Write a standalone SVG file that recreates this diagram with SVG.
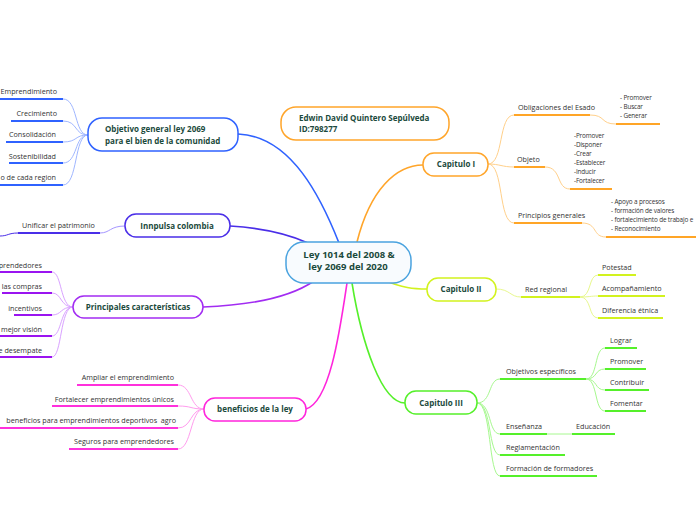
<svg xmlns="http://www.w3.org/2000/svg" width="696" height="520" viewBox="0 0 696 520">
<style>
text{font-family:"Open Sans","Noto Sans","Liberation Sans",sans-serif;white-space:pre;}
.t{font-size:8px;font-weight:bold;fill:#1b4a3c;}
.c{font-size:7.2px;fill:#333;}
.s{font-size:6.4px;fill:#333;letter-spacing:-0.15px;}
.n{fill:#fff;stroke-width:1.5;}
.m{fill:none;stroke-width:1.6;}
.l{fill:none;stroke-width:1;}
.u{fill:none;stroke-width:1.8;}
</style>
<rect width="696" height="520" fill="#fff"/>
<g id="connectors">
<path class="m" stroke="#2f62ff" d="M238,134 C292,136 322,200 339,243"/>
<path class="m" stroke="#4a2ee8" d="M230,226 C262,228 286,233 308,243"/>
<path class="m" stroke="#a22cf2" d="M203,307 C258,305 292,296 314,281"/>
<path class="m" stroke="#ff25dc" d="M306,409 C330,402 340,330 347,283"/>
<path class="m" stroke="#55f02a" d="M352,283 C362,345 382,403 405,403"/>
<path class="m" stroke="#d2f21e" d="M384,280 C402,288 414,289 427,289"/>
<path class="m" stroke="#ffa52a" d="M357,242 C370,190 396,165 423,165"/>
<g>
<path class="l" stroke="#9fb6ff" d="M88,135 C74,135 78,99 63,99"/>
<path class="l" stroke="#9fb6ff" d="M88,135 C74,135 78,121 63,121"/>
<path class="l" stroke="#9fb6ff" d="M88,135 C74,135 78,142 63,142"/>
<path class="l" stroke="#9fb6ff" d="M88,135 C74,135 78,163 63,163"/>
<path class="l" stroke="#9fb6ff" d="M88,135 C74,135 78,185 63,185"/>
<path class="u" stroke="#2f62ff" d="M0,99 H63 M11,121 H63 M6,142 H63 M9,163 H63 M0,185 H63"/>
</g>
<path class="l" stroke="#a596ff" d="M125,226 C110,226 110,233 100,233"/>
<path class="u" stroke="#4a2ee8" d="M18,233 H100"/>
<path class="l" stroke="#4a2ee8" d="M18,233 C8,233 8,236 0,236"/>
<g>
<path class="l" stroke="#d9a2ff" d="M73,307 C60,307 62,272 52,272"/>
<path class="l" stroke="#d9a2ff" d="M73,307 C60,307 62,293 52,293"/>
<path class="l" stroke="#d9a2ff" d="M73,307 C60,307 62,315 52,315"/>
<path class="l" stroke="#d9a2ff" d="M73,307 C60,307 62,336 52,336"/>
<path class="l" stroke="#d9a2ff" d="M73,307 C60,307 62,357 52,357"/>
<path class="u" stroke="#9a14f0" d="M0,272 H52 M2,293 H52 M14,315 H52 M0,336 H52 M0,357 H52"/>
</g>
<g>
<path class="l" stroke="#ff9cee" d="M204,409 C190,409 192,385 178,385"/>
<path class="l" stroke="#ff9cee" d="M204,409 C190,409 192,406 178,406"/>
<path class="l" stroke="#ff9cee" d="M204,409 C190,409 192,428 178,428"/>
<path class="l" stroke="#ff9cee" d="M204,409 C190,409 192,449 178,449"/>
<path class="u" stroke="#ff30dc" d="M77,385 H178 M52,406 H178 M0,428 H178 M69,449 H178"/>
</g>
<g>
<path class="l" stroke="#ffd08a" d="M488,164 C504,164 498,115 514,115"/>
<path class="l" stroke="#ffd08a" d="M488,164 C500,164 502,167 514,167"/>
<path class="l" stroke="#ffd08a" d="M488,164 C504,164 498,223 514,223"/>
<path class="l" stroke="#ffd08a" d="M590,115 C606,115 600,124 616,124"/>
<path class="l" stroke="#ffd08a" d="M545,167 C562,167 556,189 570,189"/>
<path class="l" stroke="#ffd08a" d="M582,223 C598,223 592,237 606,237"/>
<path class="u" stroke="#ffa526" d="M514,115 H590 M616,124 H660 M514,167 H545 M570,189 H612 M514,223 H582 M606,237 H696"/>
</g>
<g>
<path class="l" stroke="#e8f88e" d="M496,289 C510,289 510,297 521,297"/>
<path class="l" stroke="#e8f88e" d="M580,297 C592,297 588,275 598,275"/>
<path class="l" stroke="#e8f88e" d="M580,297 C590,297 590,296 598,296"/>
<path class="l" stroke="#e8f88e" d="M580,297 C592,297 588,318 598,318"/>
<path class="u" stroke="#d2f21e" d="M521,297 H580 M598,275 H636 M598,296 H665 M598,318 H663"/>
</g>
<g>
<path class="l" stroke="#a6f88e" d="M477,403 C492,403 488,379 500,379"/>
<path class="l" stroke="#a6f88e" d="M477,403 C492,403 488,434 500,434"/>
<path class="l" stroke="#a6f88e" d="M477,403 C492,403 488,455 500,455"/>
<path class="l" stroke="#a6f88e" d="M477,403 C492,403 488,476 500,476"/>
<path class="l" stroke="#a6f88e" d="M586,379 C598,379 594,348 605,348"/>
<path class="l" stroke="#a6f88e" d="M586,379 C598,379 594,369 605,369"/>
<path class="l" stroke="#a6f88e" d="M586,379 C598,379 594,390 605,390"/>
<path class="l" stroke="#a6f88e" d="M586,379 C598,379 594,411 605,411"/>
<path class="l" stroke="#a6f88e" d="M547,434 H572"/>
<path class="u" stroke="#55f02a" d="M500,379 H586 M605,348 H637 M605,369 H646 M605,390 H649 M605,411 H646 M500,434 H547 M572,434 H615 M500,455 H565 M500,476 H597"/>
</g>
</g>
<g id="center">
<rect x="286" y="242" width="125" height="41" rx="18" fill="#f8fbfe" stroke="#4aa3df" stroke-width="1.5"/>
<text x="349" y="258" text-anchor="middle" style="font-size:9.5px;font-weight:bold;fill:#1b4a3c">Ley 1014 del 2008 &amp;</text>
<text x="348" y="270" text-anchor="middle" style="font-size:9.5px;font-weight:bold;fill:#1b4a3c">ley 2069 del 2020</text>
</g>
<g id="objetivo">
<rect class="n" x="88" y="118" width="150" height="33" rx="14" stroke="#2f62ff"/>
<text class="t" x="105" y="132">Objetivo general ley 2069</text>
<text class="t" x="105" y="144">para el bien de la comunidad</text>
</g>
<g id="objetivo-children">
<text class="c" x="57" y="94" text-anchor="end">Emprendimiento</text>
<text class="c" x="57" y="116" text-anchor="end">Crecimiento</text>
<text class="c" x="56" y="137" text-anchor="end">Consolidación</text>
<text class="c" x="56" y="159" text-anchor="end">Sostenibilidad</text>
<text class="c" x="56" y="180" text-anchor="end">o de cada region</text>
</g>
<g id="innpulsa">
<rect class="n" x="125" y="214" width="105" height="23" rx="11" stroke="#4a2ee8"/>
<text class="t" x="177" y="229" text-anchor="middle">Innpulsa colombia</text>
<text class="c" x="22" y="228">Unificar el patrimonio</text>
</g>
<g id="principales">
<rect class="n" x="73" y="296" width="130" height="22" rx="11" stroke="#a22cf2"/>
<text class="t" x="138" y="310" text-anchor="middle">Principales características</text>
<text class="c" x="42" y="268" text-anchor="end">prendedores</text>
<text class="c" x="42" y="289" text-anchor="end">las compras</text>
<text class="c" x="42" y="311" text-anchor="end">incentivos</text>
<text class="c" x="42" y="332" text-anchor="end">mejor visión</text>
<text class="c" x="42" y="353" text-anchor="end">e desempate</text>
</g>
<g id="beneficios">
<rect class="n" x="204" y="398" width="102" height="23" rx="11" stroke="#ff25dc"/>
<text class="t" x="255" y="412" text-anchor="middle">beneficios de la ley</text>
<text class="c" x="174" y="380" text-anchor="end">Ampliar el emprendimiento</text>
<text class="c" x="174" y="402" text-anchor="end">Fortalecer emprendimientos únicos</text>
<text class="c" x="176" y="423" text-anchor="end">beneficios para emprendimientos deportivos  agro</text>
<text class="c" x="174" y="444" text-anchor="end">Seguros para emprendedores</text>
</g>
<g id="edwin">
<rect class="n" x="281" y="107" width="168" height="33" rx="15" stroke="#ffa52a"/>
<text class="t" x="299" y="121">Edwin David Quintero Sepúlveda</text>
<text class="t" x="299" y="132">ID:798277</text>
</g>
<g id="capitulo1">
<rect class="n" x="423" y="153" width="65" height="23" rx="11" stroke="#ffa52a"/>
<text class="t" x="456" y="167" text-anchor="middle">Capitulo I</text>
<text class="c" x="518" y="110">Obligaciones del Esado</text>
<text class="s" x="620" y="100">- Promover</text>
<text class="s" x="620" y="109">- Buscar</text>
<text class="s" x="620" y="118">- Generar</text>
<text class="c" x="517" y="162">Objeto</text>
<text class="s" x="574" y="138">-Promover</text>
<text class="s" x="574" y="147">-Disponer</text>
<text class="s" x="574" y="156">-Crear</text>
<text class="s" x="574" y="165">-Establecer</text>
<text class="s" x="574" y="174">-Inducir</text>
<text class="s" x="574" y="183">-Fortalecer</text>
<text class="c" x="518" y="218">Principios generales</text>
<text class="s" x="611" y="204">- Apoyo a procesos</text>
<text class="s" x="611" y="213">- formación de valores</text>
<text class="s" x="611" y="222">- fortalecimiento de trabajo e</text>
<text class="s" x="611" y="231">- Reconocimiento</text>
</g>
<g id="capitulo2">
<rect class="n" x="427" y="278" width="69" height="23" rx="11" stroke="#d2f21e"/>
<text class="t" x="461" y="292" text-anchor="middle">Capitulo II</text>
<text class="c" x="525" y="292">Red regional</text>
<text class="c" x="602" y="270">Potestad</text>
<text class="c" x="602" y="291">Acompañamiento</text>
<text class="c" x="602" y="313">Diferencia étnica</text>
</g>
<g id="capitulo3">
<rect class="n" x="405" y="391" width="72" height="23" rx="11" stroke="#55f02a"/>
<text class="t" x="441" y="406" text-anchor="middle">Capitulo III</text>
<text class="c" x="506" y="374">Objetivos específicos</text>
<text class="c" x="610" y="343">Lograr</text>
<text class="c" x="610" y="364">Promover</text>
<text class="c" x="610" y="385">Contribuir</text>
<text class="c" x="610" y="406">Fomentar</text>
<text class="c" x="506" y="429">Enseñanza</text>
<text class="c" x="576" y="429">Educación</text>
<text class="c" x="506" y="450">Reglamentación</text>
<text class="c" x="506" y="471">Formación de formadores</text>
</g>
</svg>
